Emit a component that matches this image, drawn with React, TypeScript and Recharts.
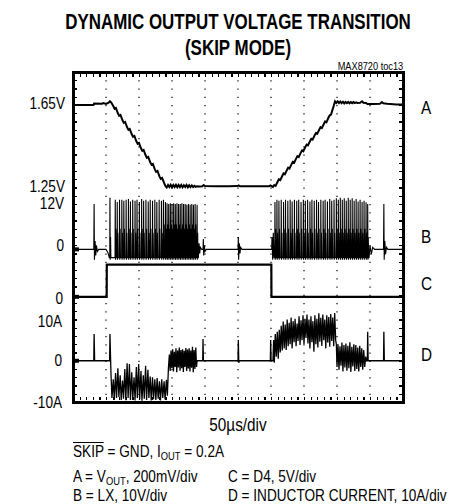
import React from 'react';
import { ComposedChart, Line, XAxis, YAxis, CartesianGrid, ReferenceLine } from 'recharts';

const FONT = "'Liberation Sans', Arial, sans-serif";
const SX = 0.85; // condensed look

// time base: 50us/div, 10 divisions
const TIME_TICKS = [0, 50, 100, 150, 200, 250, 300, 350, 400, 450, 500];
const DIV_TICKS = [0, 1, 2, 3, 4, 5, 6, 7, 8];

// A = VOUT (V), [t us, V]
const VOUT: [number, number][] = [
  [0, 1.65], [31, 1.65], [32, 1.657], [44, 1.656], [46, 1.659], [50, 1.655], [54, 1.661], [56, 1.668], [58, 1.662],
  [61, 1.645], [63, 1.632], [65, 1.636], [68, 1.61], [70, 1.598], [72, 1.602], [75, 1.576], [77, 1.564], [79, 1.568],
  [82, 1.542], [84, 1.53], [86, 1.534], [89, 1.508], [91, 1.496], [93, 1.5], [96, 1.474], [98, 1.462], [100, 1.466],
  [103, 1.44], [105, 1.428], [107, 1.432], [110, 1.406], [112, 1.394], [114, 1.398], [117, 1.372], [119, 1.36],
  [121, 1.364], [124, 1.338], [126, 1.326], [128, 1.33], [131, 1.304], [133, 1.292], [135, 1.296], [138, 1.272],
  [140, 1.258], [142, 1.25],
  [144, 1.262], [146, 1.252], [148, 1.263], [150, 1.251], [152, 1.262], [154, 1.252], [156, 1.263], [158, 1.251],
  [160, 1.262], [162, 1.252], [164, 1.262], [166, 1.251], [168, 1.261], [170, 1.252], [172, 1.262], [174, 1.251],
  [176, 1.261], [178, 1.252], [180, 1.26], [182, 1.252], [184, 1.258], [186, 1.253], [188, 1.256], [192, 1.255],
  [196, 1.256], [198, 1.262], [200, 1.257], [215, 1.256], [235, 1.256], [249, 1.257], [251, 1.26], [253, 1.256],
  [275, 1.256], [297, 1.256], [299, 1.26], [301, 1.257], [303, 1.253], [305, 1.262], [307, 1.258],
  [310, 1.278], [312, 1.29], [314, 1.286], [317, 1.306], [319, 1.318], [321, 1.314], [324, 1.334], [326, 1.346],
  [328, 1.342], [331, 1.362], [333, 1.374], [335, 1.37], [338, 1.39], [340, 1.402], [342, 1.398], [345, 1.418],
  [347, 1.43], [349, 1.426], [352, 1.446], [354, 1.458], [356, 1.454], [359, 1.474], [361, 1.486], [363, 1.482],
  [366, 1.502], [368, 1.514], [370, 1.51], [373, 1.53], [375, 1.542], [377, 1.538], [380, 1.558], [382, 1.57],
  [384, 1.566], [387, 1.588], [389, 1.6], [391, 1.604], [393, 1.625], [395, 1.645], [397, 1.668],
  [399, 1.66], [401, 1.668], [403, 1.659], [405, 1.667], [407, 1.659], [409, 1.666], [411, 1.658], [413, 1.665],
  [415, 1.659], [417, 1.665], [419, 1.658], [421, 1.664], [423, 1.659], [425, 1.664], [427, 1.659], [429, 1.663],
  [431, 1.66], [435, 1.661], [438, 1.668], [440, 1.661], [444, 1.66], [446, 1.655], [455, 1.655], [465, 1.656],
  [468, 1.664], [470, 1.658], [476, 1.656], [490, 1.653], [500, 1.653],
];

// B = LX (V): quiet stretches and ringing, [t us, V]
const LX_BASE: [number, number][] = [
  [0, 0], [31.5, 0], [32, 11], [32.5, -2.5], [33.5, 2], [34.5, -1.5], [35.5, 1], [37, -0.5], [39, 0],
  [50, 0], [53, -0.8], [55, -2],
  [190, -2], [191, 1.5], [192, -1], [193, 0.5], [195, 0], [197, 0], [197.5, 2.5], [198, -1.5], [199, 1],
  [200, -0.5], [202, 0], [250, 0], [250.5, 3], [251, -2.5], [252, 1.5], [253, -1], [254, 0.5], [256, 0],
  [301, 0], [301.5, 3], [302.5, -2.5], [303.5, 4], [304.5, -2],
  [448.5, -2], [450, 1], [452, -1.2], [454, 0.5], [457, 0], [470.5, 0], [471, 11], [471.5, -2.5], [472.5, 2],
  [473.5, -1.2], [475, 0.5], [477, 0], [500, 0],
];
// switching pulses inside the bursts: [t us, peak V, ring V]
const LX_PULSES: [number, number, number][] = [
  [56, 12.5, 3], [64, 12, 5], [67, 11.5, 4], [70.5, 12, 5], [74, 12, 4], [77, 11.8, 5], [80.5, 12, 4], [84, 12.2, 5],
  [87, 11.6, 4], [90.5, 12, 5], [94, 11.8, 4], [97, 12, 5], [100.5, 11.5, 4], [104, 12.2, 5], [107, 11.8, 4],
  [110.5, 12, 5], [114, 11.6, 4], [117, 12, 5], [120.5, 11.8, 4], [124, 12, 5], [127, 11.5, 4], [130.5, 12, 5],
  [134, 11.8, 4], [137, 12, 6], [140, 11.5, 5], [142.5, 11.2, 6], [145, 11, 5], [147.5, 11.2, 6], [150, 11, 5],
  [152.5, 11.2, 6], [155, 11, 6], [157.5, 11.2, 5], [160, 11, 6], [162.5, 11, 5], [165, 11.2, 6], [167.5, 11, 5],
  [170, 11, 6], [172.5, 10.8, 5], [175, 11, 6], [177.5, 10.8, 5], [180, 11, 6], [182.5, 10.8, 5], [185, 11, 6],
  [188, 10.8, 4],
  [306, 11.5, 5], [309, 12, 4], [312, 11.8, 5], [315.5, 12, 4], [319, 11.5, 5], [322, 12, 4], [325.5, 11.8, 5],
  [329, 12, 4], [332, 11.6, 5], [335.5, 12, 4], [339, 11.8, 5], [342, 12, 4], [345.5, 11.5, 5], [349, 12, 4],
  [352, 11.8, 5], [355.5, 12, 4], [359, 11.6, 5], [362, 12, 4], [365.5, 11.8, 5], [369, 12, 4], [372, 11.5, 5],
  [375.5, 12, 4], [379, 11.8, 5], [382, 12, 4], [385.5, 11.6, 5], [389, 12.2, 4], [392, 11.8, 5], [395.5, 12, 4],
  [399, 12.4, 5], [402, 12, 4], [405, 12.5, 5], [408, 12, 4], [411, 12.4, 5], [414, 11.8, 4], [417, 12.5, 5],
  [420, 12, 4], [423, 12.4, 5], [426, 11.8, 4], [429, 12.2, 5], [432, 11.6, 4], [435, 12, 5], [438, 11.5, 4],
  [441, 11.8, 5], [444, 11.4, 4], [446.5, 11, 3],
];
const LX_LOW = -2;

// C = D4 (V)
const D4: [number, number][] = [[0, 0], [51, 0], [51.2, 3.9], [300.5, 3.9], [300.7, 0], [500, 0]];

// D = inductor current (A)
const IL: [number, number][] = [
  [0, 0], [31.5, 0], [32, 6.5], [32.8, 0], [55.5, 0],
  [56, 6.5], [57.5, -3], [59, -9], [61, -4.5], [62.5, -9.5], [64.5, -3], [66, -9], [68, -1.8], [69.5, -8.8],
  [71.5, -3.5], [73, -9.5], [75, -4.8], [76.5, -9.2], [78.5, -2], [80, -9.6], [82, -0.6], [83.5, -9], [85.5, -0.8],
  [87, -9.5], [89, -2.8], [90.5, -9.3], [92.5, -4], [94, -9.6], [96, -1.5], [97.5, -9], [99.5, -0.8], [101, -9.4],
  [103, -2.5], [104.5, -9.7], [106.5, -3.5], [108, -9.2], [110, -1.2], [111.5, -9.5], [113.5, -2.2], [115, -9],
  [117, -3.8], [118.5, -9.6], [120.5, -4], [122, -9.3], [124, -4.5], [125.5, -9.5], [127.5, -4.2], [129, -9.2],
  [131, -5], [132.5, -9.6], [134.5, -4.5], [136, -9], [138, -5], [139.5, -9.4], [141.5, -4.6], [143, -8.5],
  [144.5, -2], [146, 1.5], [147.2, -2.5], [148.5, 2.5], [149.7, -1.8], [151, 2.8], [152.2, -2.6], [153.5, 2.2],
  [154.7, -1.5], [156, 3], [157.2, -2.8], [158.5, 2.5], [159.7, -1.6], [161, 3.2], [162.2, -2.4], [163.5, 2.6],
  [164.7, -1.8], [166, 2.8], [167.2, -2.7], [168.5, 2.4], [169.7, -1.5], [171, 3.1], [172.2, -2.5], [173.5, 2.7],
  [174.7, -1.9], [176, 3], [177.2, -2.6], [178.5, 2.5], [179.7, -1.7], [181, 3.4], [182.2, -2.8], [183.5, 2.6],
  [184.7, -2], [186, 3.2], [187.2, -1.5], [188, 0],
  [196.5, 0], [197, 5.3], [197.6, 0], [250, 0], [250.5, 5], [251.2, -0.5], [252, 0], [299, 0], [299.5, 5],
  [300.2, 0], [303, 0],
  [304, 5], [305, -0.5], [306.5, 6.5], [308, 1], [309.5, 7], [311, 0.5], [312.5, 7.5], [314, 2], [315.5, 8.5],
  [317, 2.5], [318.5, 9.5], [320, 3], [321.5, 8.8], [323, 2.6], [324.5, 10], [326, 3.5], [327.5, 9.2], [329, 4],
  [330.5, 10.5], [332, 3], [333.5, 9.6], [335, 4.5], [336.5, 10.2], [338, 3.5], [339.5, 9], [341, 4.8],
  [342.5, 10.8], [344, 3.8], [345.5, 9.8], [347, 5], [348.5, 11], [350, 4], [351.5, 10.2], [353, 5.5],
  [354.5, 11.2], [356, 4.2], [357.5, 10], [359, 3], [360.5, 10.8], [362, 4.5], [363.5, 9.6], [365, 2.2],
  [366.5, 11], [368, 4], [369.5, 10.2], [371, 3.2], [372.5, 11.5], [374, 4.6], [375.5, 10.4], [377, 3.6],
  [378.5, 11.2], [380, 5], [381.5, 10], [383, 3], [384.5, 11], [386, 4.4], [387.5, 10.6], [389, 3.4],
  [390.5, 11.3], [392, 4.8], [393.5, 10.5], [395, 3.5], [396.5, 11.6], [398, 5], [399, 4],
  [400, -1.5], [401.5, 4], [403, -2.2], [404.5, 3.5], [406, -1.2], [407.5, 4.4], [409, -2.6], [410.5, 3.8],
  [412, -1.6], [413.5, 4.2], [415, -2.4], [416.5, 3.6], [418, -1.8], [419.5, 4.5], [421, -2.7], [422.5, 3.4],
  [424, -1.4], [425.5, 4], [427, -2.5], [428.5, 3.8], [430, -2], [431.5, 3.2], [433, -2.6], [434.5, 3.6],
  [436, -1.5], [437.5, 3], [439, -2.2], [440.5, 2.6], [442, -1.5], [443.5, 1], [444.5, 0],
  [446, 0], [446.5, 7], [447.2, 0], [470.5, 0], [471, 7], [471.7, 0], [500, 0],
];

// short ground markers at the left edge of the screen, [t us, level]
const GND_MARK: [number, number][] = [[0, 0], [9, 0]];

const rows = (pts: [number, number][]) => pts.map(([t, v]) => ({ t, v }));

const lxRows = [
  ...rows(LX_BASE),
  ...LX_PULSES.flatMap(([t, peak, ring]) => [
    { t: t - 0.3, v: LX_LOW },
    { t, v: peak },
    { t: t + 0.4, v: LX_LOW - 0.5 },
    { t: t + 0.9, v: ring },
    { t: t + 1.4, v: LX_LOW },
  ]),
].sort((a, b) => a.t - b.t);

const volts = (v: number) => (v === 0 ? '0' : `${v}V`);
const volts2 = (v: number) => `${v.toFixed(2)}V`;
const amps = (v: number) => (v === 0 ? '0' : `${v}A`);

// narrow tick text, squeezed horizontally around its anchor; nudge = per-label vertical offset
const NarrowTick = ({ x, y, payload, fmt, nudge = {} }: any) => {
  const yy = y + (nudge[payload.value] || 0);
  return (
    <text x={x} y={yy} dy="0.355em" textAnchor="end" fontSize={16} fontFamily={FONT} fill="#000"
      transform={`translate(${x} ${yy}) scale(${SX} 1) translate(${-x} ${-yy})`}>
      {fmt(payload.value)}
    </text>
  );
};

const axisCommon = {
  type: 'number' as const, width: 1, axisLine: false, tickLine: false, tickSize: 0, tickMargin: 8,
  interval: 0 as const, allowDataOverflow: true,
};

const Txt = ({ left, top, size, children, lh }: any) => (
  <div style={{ position: 'absolute', left, top, fontSize: size, lineHeight: `${lh}px`, whiteSpace: 'nowrap', transform: `scaleX(${SX})`, transformOrigin: '0 0' }}>
    {children}
  </div>
);

const Sub = ({ children }: any) => <span style={{ fontSize: 11, verticalAlign: '-3px' }}>{children}</span>;

// screen frame (plot area 73..403 x 72..402) with minor ticks along its inner edges
const hTicks = 'repeating-linear-gradient(to right, #000 0 1.2px, transparent 1.2px 6.6px)';
const vTicks = 'repeating-linear-gradient(to bottom, #000 0 1.2px, transparent 1.2px 8.25px)';
const Frame = () => (
  <>
    <div style={{ position: 'absolute', left: 73, top: 74, width: 330, height: 3, background: hTicks }} />
    <div style={{ position: 'absolute', left: 73, top: 397, width: 330, height: 3, background: hTicks }} />
    <div style={{ position: 'absolute', left: 74, top: 72, width: 3, height: 330, background: vTicks }} />
    <div style={{ position: 'absolute', left: 399, top: 72, width: 3, height: 330, background: vTicks }} />
    <div style={{ position: 'absolute', left: 71.5, top: 70.5, width: 333, height: 333, boxSizing: 'border-box', border: '3px solid #000' }} />
  </>
);

export default function App() {
  return (
    <div style={{ position: 'absolute', left: 0, top: 0, width: 455, height: 504, background: '#fff', fontFamily: FONT, color: '#000', overflow: 'hidden' }}>
      <div style={{ position: 'absolute', left: 0, top: 8.7, width: 476, textAlign: 'center', fontWeight: 'bold', fontSize: 22, lineHeight: '26.5px', transform: 'scaleX(0.77)', transformOrigin: '238px 0' }}>
        DYNAMIC OUTPUT VOLTAGE TRANSITION<br />(SKIP MODE)
      </div>
      <div style={{ position: 'absolute', right: 52, top: 60.8, fontSize: 10, lineHeight: '12px', whiteSpace: 'nowrap', transform: 'scaleX(0.92)', transformOrigin: '100% 0' }}>MAX8720 toc13</div>

      <div style={{ position: 'absolute', left: 0, top: 0 }}>
        <ComposedChart width={455} height={504} margin={{ top: 72, right: 52, bottom: 102, left: 69 }}>
          <XAxis type="number" dataKey="t" domain={[0, 500]} ticks={TIME_TICKS} hide allowDataOverflow />
          <YAxis yAxisId="div" type="number" domain={[0, 8]} ticks={DIV_TICKS} hide />
          <YAxis yAxisId="A" {...axisCommon} domain={[0.21, 1.81]} ticks={[1.25, 1.65]} tick={(p: any) => <NarrowTick {...p} fmt={volts2} nudge={{ 1.65: -2, 1.25: -1.5 }} />} />
          <YAxis yAxisId="B" {...axisCommon} domain={[-37, 43]} ticks={[0, 12]} tick={(p: any) => <NarrowTick {...p} fmt={volts} nudge={{ 12: 3, 0: -4 }} />} />
          <YAxis yAxisId="C" {...axisCommon} domain={[-12.75, 27.25]} ticks={[0]} tick={(p: any) => <NarrowTick {...p} fmt={volts} nudge={{ 0: 2 }} />} />
          <YAxis yAxisId="D" {...axisCommon} domain={[-10, 70]} ticks={[-10, 0, 10]} tick={(p: any) => <NarrowTick {...p} fmt={amps} nudge={{ 10: 2 }} />} />

          <CartesianGrid yAxisId="div" vertical={false} stroke="#000" strokeWidth={1.2} strokeDasharray="1.2 5.4" />
          <CartesianGrid yAxisId="div" horizontal={false} stroke="#000" strokeWidth={1.2} strokeDasharray="1.2 7.05" />

          <ReferenceLine yAxisId="div" x={250} stroke="#000" strokeWidth={1} strokeDasharray="3 2" />
          <ReferenceLine yAxisId="div" x={250} stroke="#000" strokeWidth={7} strokeDasharray="1.2 7.05" />
          <ReferenceLine yAxisId="div" y={4} stroke="#000" strokeWidth={1} strokeDasharray="3 2" />
          <ReferenceLine yAxisId="div" y={4} stroke="#000" strokeWidth={7} strokeDasharray="1.2 5.4" />

          <Line yAxisId="A" data={rows(VOUT)} dataKey="v" type="linear" stroke="#000" strokeWidth={2} dot={false} isAnimationActive={false} />
          <Line yAxisId="B" data={lxRows} dataKey="v" type="linear" stroke="#000" strokeWidth={1.1} dot={false} isAnimationActive={false} />
          <Line yAxisId="C" data={rows(D4)} dataKey="v" type="linear" stroke="#000" strokeWidth={2.2} dot={false} isAnimationActive={false} />
          <Line yAxisId="D" data={rows(IL)} dataKey="v" type="linear" stroke="#000" strokeWidth={1.3} dot={false} isAnimationActive={false} />

          {/* channel ground markers on the left edge */}
          <Line yAxisId="B" data={rows(GND_MARK)} dataKey="v" type="linear" stroke="#000" strokeWidth={4} dot={false} isAnimationActive={false} />
          <Line yAxisId="C" data={rows(GND_MARK)} dataKey="v" type="linear" stroke="#000" strokeWidth={4} dot={false} isAnimationActive={false} />
          <Line yAxisId="D" data={rows(GND_MARK)} dataKey="v" type="linear" stroke="#000" strokeWidth={4} dot={false} isAnimationActive={false} />
        </ComposedChart>
      </div>

      <Frame />

      <Txt left={421} top={98} size={18} lh={20}>A</Txt>
      <Txt left={421} top={227} size={18} lh={20}>B</Txt>
      <Txt left={421} top={273.5} size={18} lh={20}>C</Txt>
      <Txt left={421} top={345} size={18} lh={20}>D</Txt>

      <div style={{ position: 'absolute', left: 0, width: 476, top: 414, textAlign: 'center', fontSize: 18, lineHeight: '22px', transform: `scaleX(${SX})`, transformOrigin: '238px 0' }}>50µs/div</div>

      <Txt left={73} top={442.4} size={16} lh={19}>
        <span style={{ textDecoration: 'overline' }}>SKIP</span> = GND, I<Sub>OUT</Sub> = 0.2A
      </Txt>
      <Txt left={73} top={466.7} size={16} lh={19}>A = V<Sub>OUT</Sub>, 200mV/div</Txt>
      <Txt left={228} top={466.7} size={16} lh={19}>C = D4, 5V/div</Txt>
      <Txt left={73} top={485.7} size={16} lh={19}>B = LX, 10V/div</Txt>
      <Txt left={228} top={485.7} size={16} lh={19}>D = INDUCTOR CURRENT, 10A/div</Txt>
    </div>
  );
}
